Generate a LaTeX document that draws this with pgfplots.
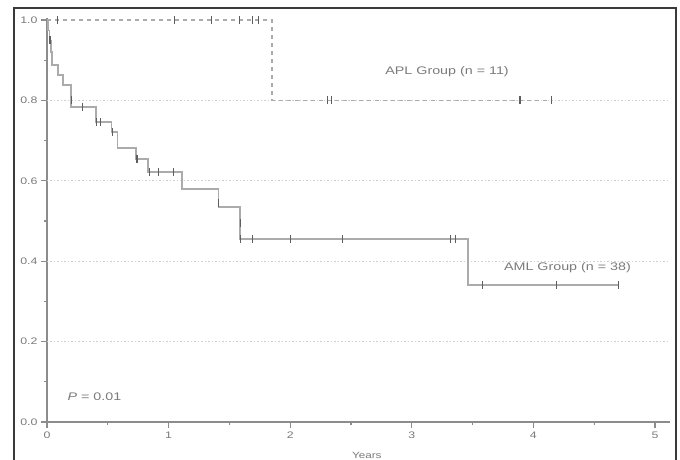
\documentclass[border=0pt]{standalone}
\usepackage{fontspec}
\setmainfont{Liberation Sans}[FakeStretch=1.3]
\usepackage{pgfplots}
\pgfplotsset{compat=1.18}
\definecolor{axisgray}{HTML}{8C8C8C}
\definecolor{curvegray}{HTML}{ABABAB}
\definecolor{markgray}{HTML}{5E5E5E}
\definecolor{gridgray}{HTML}{CFCFCF}
\definecolor{textgray}{HTML}{7A7A7A}
\definecolor{framegray}{HTML}{3A3A3A}
\begin{document}
\begin{tikzpicture}
\path[use as bounding box] (-47pt,-37pt) rectangle (633pt,422pt);
\draw[framegray, line width=1.6pt] (-33pt,-45pt) -- (-33pt,414pt) -- (629pt,414pt) -- (629pt,-45pt);
\begin{axis}[
  at={(0pt,0pt)}, anchor=south west,
  x=121.6pt, y=402pt,
  xmin=0, xmax=5.12, ymin=0, ymax=1.005,
  clip=false,
  axis x line*=bottom, axis y line*=left,
  axis line style={axisgray, line width=2.4pt, -},
  xtick={0,1,2,3,4,5}, minor xtick={0.5,1.5,2.5,3.5,4.5},
  ytick={0,0.2,0.4,0.6,0.8,1.0}, minor ytick={0.1,0.3,0.5,0.7,0.9},
  tick align=outside,
  major tick length=6pt, minor tick length=3pt,
  tick style={axisgray, line width=1.2pt},
  /pgf/number format/assume math mode=true,
  yticklabel style={/pgf/number format/fixed, /pgf/number format/precision=1, /pgf/number format/fixed zerofill},
  ticklabel style={font=\fontsize{9.5}{11}\selectfont, text=textgray},
  extra y ticks={0.2,0.4,0.6,0.8},
  extra y tick labels={},
  extra y tick style={grid=major, major grid style={gridgray, line width=1pt, dash pattern=on 1.5pt off 2pt}, major tick length=0pt},
]
\addplot[const plot, curvegray, line width=1.8pt] coordinates {
(0,1) (0.01,0.974) (0.02,0.947) (0.03,0.921) (0.04,0.888) (0.09,0.863) (0.13,0.838)
(0.20,0.783) (0.40,0.746) (0.53,0.721) (0.58,0.682) (0.73,0.654) (0.83,0.622)
(1.11,0.580) (1.41,0.535) (1.59,0.455) (3.46,0.341) (4.70,0.341)};
\addplot[const plot, curvegray, line width=1.6pt, dash pattern=on 4pt off 4pt] coordinates {
(0,1) (1.85,0.8) (4.15,0.8)};
\addplot[only marks, mark=|, mark size=4pt, markgray, mark options={line width=1.2pt}] coordinates {
(0.025,0.95) (0.20,0.80) (0.29,0.783) (0.41,0.746) (0.44,0.746) (0.54,0.721)
(0.74,0.654) (0.84,0.622) (0.92,0.622) (1.04,0.622) (1.41,0.545) (1.59,0.495)
(1.59,0.455) (1.69,0.455) (2.00,0.455) (2.43,0.455) (3.32,0.455) (3.36,0.455)
(3.58,0.341) (4.19,0.341) (4.70,0.341)};
\addplot[only marks, mark=|, mark size=4pt, markgray, mark options={line width=1.2pt}] coordinates {
(0.085,1) (1.05,1) (1.35,1) (1.58,1) (1.69,1) (1.74,1)
(2.31,0.8) (2.34,0.8) (3.89,0.8) (4.15,0.8)};
\node[text=textgray, font=\fontsize{11}{13}\selectfont] at (axis cs:3.29,0.871) {APL Group (n = 11)};
\node[text=textgray, font=\fontsize{11}{13}\selectfont] at (axis cs:4.28,0.383) {AML Group (n = 38)};
\node[text=textgray, font=\fontsize{11}{13}\selectfont] at (axis cs:0.39,0.062) {\textit{P} = 0.01};
\node[text=textgray, font=\fontsize{9}{10}\selectfont] at (axis cs:2.63,-0.083) {Years};
\end{axis}
\end{tikzpicture}
\end{document}
